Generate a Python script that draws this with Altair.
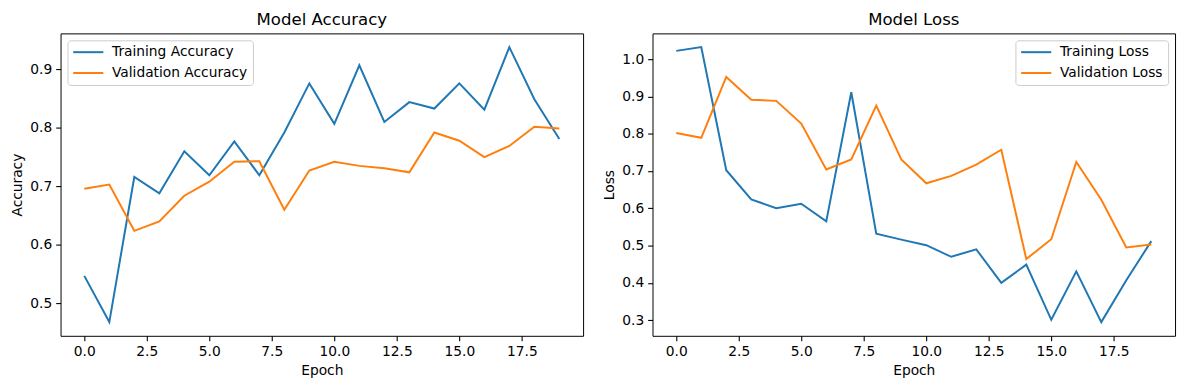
import altair as alt
import pandas as pd

epochs = list(range(20))

train_acc = [0.547, 0.468, 0.716, 0.688, 0.760, 0.719, 0.777, 0.719, 0.792, 0.876,
             0.807, 0.907, 0.810, 0.844, 0.833, 0.876, 0.831, 0.938, 0.849, 0.781]
val_acc = [0.696, 0.703, 0.624, 0.640, 0.684, 0.708, 0.742, 0.743, 0.660, 0.727,
           0.742, 0.735, 0.731, 0.724, 0.792, 0.778, 0.750, 0.769, 0.802, 0.799]

train_loss = [1.022, 1.032, 0.702, 0.624, 0.600, 0.612, 0.565, 0.911, 0.532, 0.516,
              0.501, 0.470, 0.490, 0.400, 0.449, 0.301, 0.431, 0.295, 0.407, 0.512]
val_loss = [0.802, 0.789, 0.952, 0.891, 0.888, 0.827, 0.704, 0.731, 0.875, 0.731,
            0.667, 0.687, 0.717, 0.757, 0.464, 0.517, 0.724, 0.623, 0.495, 0.503]

acc_names = ["Training Accuracy", "Validation Accuracy"]
loss_names = ["Training Loss", "Validation Loss"]
colors = ["#1f77b4", "#ff7f0e"]

x_ticks = [0, 2.5, 5, 7.5, 10, 12.5, 15, 17.5]
acc_ticks = [0.5, 0.6, 0.7, 0.8, 0.9]
loss_ticks = [0.3, 0.4, 0.5, 0.6, 0.7, 0.8, 0.9, 1.0]

FONT = "DejaVu Sans"
FS = 13.9
W, H = 527, 305


def frame(a, b, names):
    return pd.DataFrame({
        "Epoch": epochs + epochs,
        "value": a + b,
        "series": [names[0]] * len(a) + [names[1]] * len(b),
        "order": list(range(len(a))) + list(range(len(b))),
    })


def margins(values):
    lo, hi = min(values), max(values)
    m = (hi - lo) * 0.05
    return [lo - m, hi + m]


def panel(df, names, ytitle, title, yticks, legend_orient):
    ydom = margins(df["value"].tolist())
    return alt.Chart(df).mark_line(strokeWidth=2, clip=True).encode(
        x=alt.X("Epoch:Q",
                scale=alt.Scale(domain=[-0.95, 19.95], nice=False, zero=False),
                axis=alt.Axis(values=x_ticks, format=".1f", title="Epoch")),
        y=alt.Y("value:Q",
                scale=alt.Scale(domain=ydom, nice=False, zero=False),
                axis=alt.Axis(values=yticks, format=".1f", title=ytitle)),
        color=alt.Color("series:N",
                        scale=alt.Scale(domain=names, range=colors),
                        legend=alt.Legend(title=None, orient=legend_orient)),
        order="order:Q",
    ).properties(width=W, height=H, title=title)


left = panel(frame(train_acc, val_acc, acc_names), acc_names, "Accuracy",
             "Model Accuracy", acc_ticks, "top-left")
right = panel(frame(train_loss, val_loss, loss_names), loss_names, "Loss",
              "Model Loss", loss_ticks, "top-right")

chart = alt.hconcat(left, right, spacing=18).resolve_scale(
    color="independent", y="independent"
).properties(
    padding={"left": 2, "top": 1, "right": 5, "bottom": 5}
).configure_view(
    stroke="black", strokeWidth=1
).configure_axis(
    domain=False, grid=False,
    tickColor="black", tickSize=4.9, tickWidth=1.1,
    labelPadding=4.0, labelFont=FONT, labelFontSize=FS, labelColor="black",
    titleFont=FONT, titleFontSize=FS, titleFontWeight="normal", titleColor="black",
    titlePadding=5.0,
).configure_title(
    font=FONT, fontSize=16.7, fontWeight="normal", color="black", anchor="middle", offset=5
).configure_legend(
    labelFont=FONT, labelFontSize=FS, labelColor="black", labelLimit=400,
    strokeColor="#cccccc", fillColor="white", cornerRadius=3,
    padding=5, offset=7, rowPadding=6,
    symbolType="M-3.8,0H3.8", symbolSize=64, symbolStrokeWidth=2,
    symbolOffset=9, labelOffset=17,
)

chart.save("out.html", embed_options={"renderer": "svg", "actions": False})
